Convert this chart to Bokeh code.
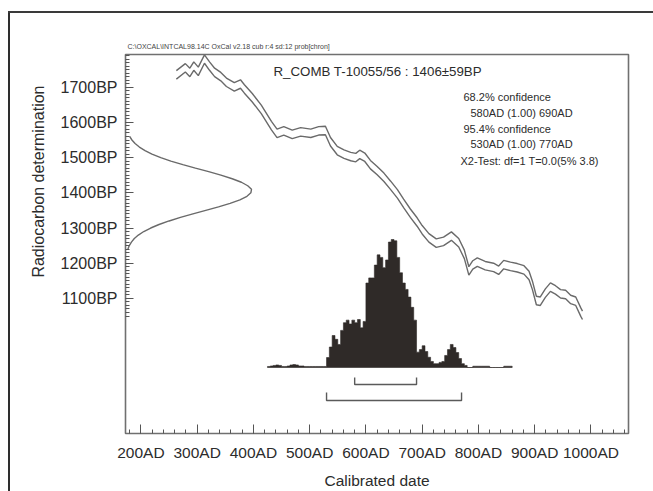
import math
from bokeh.plotting import figure
from bokeh.models import Label, FixedTicker, Range1d, Title
from bokeh.embed import file_html
from bokeh.resources import INLINE

# ---------------- data ----------------
header_text = "C:\\OXCAL\\INTCAL98.14C  OxCal v2.18 cub r:4 sd:12 prob[chron]"
title_text = "R_COMB T-10055/56 : 1406\u00b159BP"
stats_text = ["68.2% confidence", "580AD (1.00) 690AD", "95.4% confidence",
              "530AD (1.00) 770AD", "X2-Test: df=1 T=0.0(5% 3.8)"]
x_label = "Calibrated date"
y_label = "Radiocarbon determination"

x_ticks = [200, 300, 400, 500, 600, 700, 800, 900, 1000]
x_tick_labels = ["200AD", "300AD", "400AD", "500AD", "600AD", "700AD", "800AD", "900AD", "1000AD"]
y_ticks = [1100, 1200, 1300, 1400, 1500, 1600, 1700]
y_tick_labels = ["1100BP", "1200BP", "1300BP", "1400BP", "1500BP", "1600BP", "1700BP"]

# calibration curve (centre, BP) and 1-sigma half width
cal_year = [263, 279, 287, 294, 302, 313, 322, 331, 342, 352, 366, 377, 384, 398, 414,
            432, 442, 454, 469, 484, 502, 516, 528, 537, 549, 561, 573, 582, 589, 598,
            608, 620, 632, 644, 656, 667, 679, 691, 700, 712, 725, 738, 752, 765, 775,
            783, 790, 798, 812, 827, 836, 845, 857, 869, 881, 890, 896, 903, 910, 919,
            928, 937, 946, 955, 964, 973, 982, 985]
cal_bp = [1735, 1755, 1742, 1760, 1745, 1780, 1760, 1742, 1730, 1714, 1701, 1709, 1695, 1670, 1637,
          1591, 1569, 1576, 1566, 1573, 1569, 1576, 1577, 1545, 1520, 1510, 1503, 1500, 1509, 1501,
          1480, 1463, 1444, 1421, 1397, 1370, 1342, 1317, 1295, 1272, 1257, 1262, 1277, 1258, 1225,
          1178, 1195, 1203, 1193, 1188, 1180, 1196, 1191, 1187, 1181, 1165, 1137, 1094, 1092, 1115,
          1132, 1124, 1113, 1111, 1097, 1092, 1061, 1052]
cal_err = [12, 12, 12, 12, 12, 12, 12, 12, 12, 12, 12, 12, 12, 12, 12,
           12, 12, 12, 12, 12, 12, 12, 12, 12, 12, 12, 12, 12, 12, 12,
           12, 12, 12, 12, 12, 12, 12, 12, 12, 12, 12, 12, 12, 12, 12,
           12, 12, 12, 12, 12, 12, 12, 12, 12, 12, 12, 12, 12, 12, 12,
           12, 12, 12, 12, 12, 12, 12, 12]

# radiocarbon measurement 1406 +/- 59 BP, relative density
gauss_bp = [1560, 1550, 1540, 1530, 1520, 1510, 1500, 1490, 1480, 1470, 1460, 1450, 1440,
            1430, 1420, 1410, 1400, 1390, 1380, 1370, 1360, 1350, 1340, 1330, 1320, 1310,
            1300, 1290, 1280, 1270, 1260, 1250, 1240]
gauss_dens = [0.033, 0.051, 0.076, 0.11, 0.155, 0.21, 0.28, 0.36, 0.455, 0.555, 0.66, 0.757, 0.847,
              0.92, 0.97, 1.0, 0.995, 0.964, 0.908, 0.83, 0.738, 0.637, 0.535, 0.436, 0.346, 0.266,
              0.2, 0.145, 0.102, 0.07, 0.047, 0.03, 0.019]

# calibrated probability distribution (5-year bins, relative to peak)
hist_year = list(range(425, 860, 5))
hist_prob = [0.008, 0.012, 0.016, 0.020, 0.016, 0.008, 0.008, 0.012, 0.020, 0.023,
             0.020, 0.012, 0.012, 0.008, 0.008, 0.008, 0.008, 0.008, 0.008, 0.008, 0.008,
             0.078, 0.160, 0.250, 0.220, 0.180, 0.290, 0.350, 0.370, 0.340, 0.370,
             0.350, 0.375, 0.310, 0.360, 0.660, 0.700, 0.700, 0.800, 0.880, 0.860,
             0.780, 0.840, 0.980, 1.000, 0.990, 0.860, 0.740, 0.660, 0.610, 0.550,
             0.470, 0.370, 0.120, 0.140, 0.170, 0.125, 0.080, 0.047, 0.030, 0.030,
             0.040, 0.047, 0.094, 0.140, 0.180, 0.156, 0.117, 0.070, 0.030, 0.016,
             0.000, 0.000, 0.010, 0.010, 0.010, 0.010, 0.010, 0.010, 0.000, 0.000,
             0.000, 0.000, 0.000, 0.010, 0.010, 0.010]
hist_bin = 5

range_68 = [580, 690]
range_95 = [530, 770]

# ---------------- layout (page pixels; the page has no margin) ----------------
W, H = 653, 491
FL, FR, FT, FB = 125, 628, 54, 433       # frame edges
X0, X1 = 172.6, 1066.8
Y0, Y1 = 716.2, 1792.9
FONT = "Liberation Sans"
TXT = "#2c2c2c"
LINE = "#6a6a6a"


def px2x(px):
    return X0 + (px - FL) * (X1 - X0) / (FR - FL)


def py2y(py):
    return Y1 - (py - FT) * (Y1 - Y0) / (FB - FT)


p = figure(width=W, height=H, x_range=Range1d(X0, X1), y_range=Range1d(Y0, Y1),
           output_backend="svg", toolbar_location=None,
           min_border_left=FL, min_border_right=W - FR,
           min_border_top=FT, min_border_bottom=H - FB)
p.grid.visible = False
p.background_fill_color = "white"
p.border_fill_color = None
p.outline_line_color = "#707070"
p.outline_line_width = 1.6
p.styles = {"background": "linear-gradient(#3a3a3a,#3a3a3a) 8px 11px / 100% 2px no-repeat, "
                          "linear-gradient(#2e2e2e,#2e2e2e) 8px 11px / 2px 100% no-repeat"}

# header (file / program line) above the frame
p.title.text = header_text
p.title.text_font = FONT
p.title.text_font_size = "7px"
p.title.text_font_style = "normal"
p.title.text_color = "#444444"
p.title.align = "left"
p.title.offset = 2
p.title.standoff = 10

# y-axis caption, placed along the ticked part of the axis
p.add_layout(Title(text=y_label, align="right", offset=31, standoff=21,
                   text_font=FONT, text_font_size="16px", text_font_style="normal",
                   text_color=TXT), "left")

# axes
xa = p.xaxis[0]
xa.ticker = FixedTicker(ticks=x_ticks, minor_ticks=list(range(180, 1067, 20)))
xa.major_label_overrides = {t: s for t, s in zip(x_ticks, x_tick_labels)}
xa.axis_line_color = None
xa.major_tick_in, xa.major_tick_out = 9, 0
xa.minor_tick_in, xa.minor_tick_out = 4, 0
xa.major_tick_line_color = "#555555"
xa.minor_tick_line_color = "#555555"
xa.major_label_standoff = 10
xa.major_label_text_font = FONT
xa.major_label_text_font_size = "15.5px"
xa.major_label_text_color = TXT
xa.axis_label = x_label
xa.axis_label_text_font = FONT
xa.axis_label_text_font_size = "15.5px"
xa.axis_label_text_font_style = "normal"
xa.axis_label_text_color = TXT
xa.axis_label_standoff = 8

ya = p.yaxis[0]
ya.ticker = FixedTicker(ticks=y_ticks, minor_ticks=list(range(1050, 1793, 10)))
ya.bounds = (1045, Y1)
ya.major_label_overrides = {t: s for t, s in zip(y_ticks, y_tick_labels)}
ya.axis_line_color = None
ya.major_tick_in, ya.major_tick_out = 8, 0
ya.minor_tick_in, ya.minor_tick_out = 4, 0
ya.major_tick_line_color = "#555555"
ya.minor_tick_line_color = "#555555"
ya.major_label_standoff = 8
ya.major_label_text_font = FONT
ya.major_label_text_font_size = "16px"
ya.major_label_text_color = TXT

# calibration curve envelope
upper = [b + e for b, e in zip(cal_bp, cal_err)]
lower = [b - e for b, e in zip(cal_bp, cal_err)]
p.line(cal_year, upper, line_color=LINE, line_width=1.4)
p.line(cal_year, lower, line_color=LINE, line_width=1.4)

# radiocarbon date distribution on the y axis
amp = px2x(251) - X0
p.line([X0 + d * amp for d in gauss_dens], gauss_bp, line_color=LINE, line_width=1.4)

# calibrated distribution as a filled step outline
base = py2y(367)
hscale = py2y(239) - base
sx, sy = [hist_year[0]], [base]
for yr, v in zip(hist_year, hist_prob):
    top = base + v * hscale
    sx += [yr, yr + hist_bin]
    sy += [top, top]
sx.append(hist_year[-1] + hist_bin)
sy.append(base)
p.patch(sx, sy, fill_color="#2f2a28", line_color="#2f2a28", line_width=0.6)

# confidence range brackets
for rng, ybar, ytop in ((range_68, 384, 377), (range_95, 400, 392)):
    a, b = rng
    p.line([a, a, b, b], [py2y(ytop), py2y(ybar), py2y(ybar), py2y(ytop)],
           line_color="#5a5a5a", line_width=1.4)


def txt(s, px, py, size, align="left", color=TXT, style="normal"):
    p.add_layout(Label(x=px2x(px), y=py2y(py), text=s, text_font=FONT, text_font_size=size,
                       text_align=align, text_baseline="middle",
                       text_color=color, text_font_style=style))


txt(title_text, 273, 71, "13.3px")
stats_pos = [(463, 96), (470, 112), (463, 128), (470, 143), (460, 160)]
for s, (sxp, syp) in zip(stats_text, stats_pos):
    txt(s, sxp, syp, "11px")

open("out.html", "w").write(file_html(p, INLINE))
